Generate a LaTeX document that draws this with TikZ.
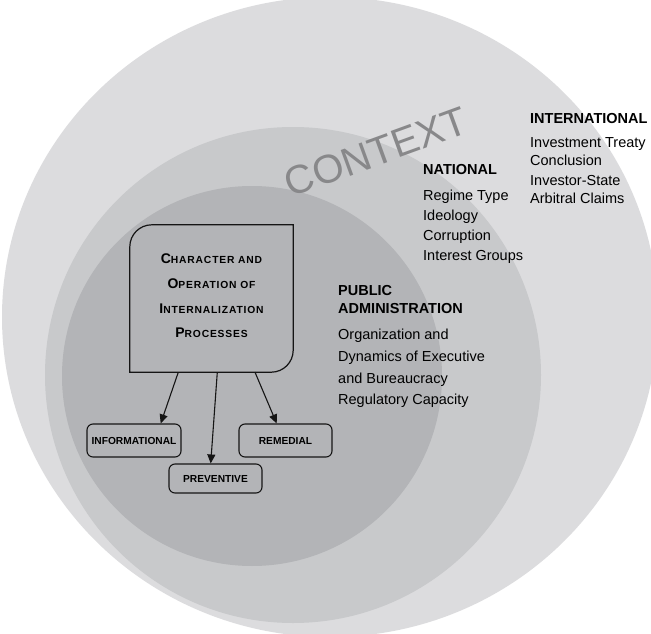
\documentclass[tikz,border=0pt]{standalone}
\usepackage{fontspec}
\setmainfont{Liberation Sans}
\usetikzlibrary{arrows.meta}
\definecolor{outerc}{HTML}{DCDCDE}
\definecolor{midc}{HTML}{C8C9CB}
\definecolor{innerc}{HTML}{B3B4B7}
\definecolor{ctxc}{HTML}{88888A}
\definecolor{linec}{HTML}{151515}
\newcommand{\scword}[2]{{\fontsize{14}{14}\selectfont #1}{\fontsize{10.3}{10}\selectfont #2}}
\tikzset{
  lbl/.style={anchor=base west, inner sep=0pt, text=black, font=\fontsize{14.5}{17}\selectfont},
  hdr/.style={anchor=base west, inner sep=0pt, text=black, font=\fontsize{14.5}{17}\selectfont\bfseries},
  smallbox/.style={draw=linec, line width=1.1pt, rounded corners=6pt, inner sep=0pt,
    font=\fontsize{10.2}{12}\selectfont\bfseries},
  arr/.style={draw=linec, line width=1.1pt, -{Triangle[length=9pt,width=8pt]}},
  boxline/.style={draw=linec, line width=1.2pt},
}
\begin{document}
\begin{tikzpicture}[x=1pt,y=-1pt]
\useasboundingbox (0,0) rectangle (651,634);
\begin{scope}
  \clip (0,0) rectangle (651,634);
  \fill[white] (0,0) rectangle (651,634);
  \fill[outerc] (330,317) ellipse [x radius=328pt, y radius=320pt];
  \fill[midc] (293,375) circle [radius=248pt];
  \fill[innerc] (252,376) circle [radius=190pt];
\end{scope}

% CONTEXT label
\node[rotate=20, text=ctxc, inner sep=0pt, font=\fontsize{40}{40}\selectfont] (ctx) at (376,152) {CONTEXT};

% main box
\node[minimum width=163pt, minimum height=147pt, inner sep=0pt] (mb) at (211.5,298.5) {};
\draw[boxline] ([yshift=-22pt]mb.north west) arc[start angle=180, end angle=90, radius=22pt]
  -- (mb.north east) -- ([yshift=22pt]mb.south east)
  arc[start angle=0, end angle=-90, radius=22pt] -- (mb.south west) -- cycle;
\node[align=center, inner sep=0pt, font=\bfseries\fontsize{14}{24.7}\selectfont\addfontfeature{LetterSpace=8}] (mbt) at (211.5,296)
  {\scword{C}{HARACTER AND}\\ \scword{O}{PERATION OF}\\ \scword{I}{NTERNALIZATION}\\ \scword{P}{ROCESSES}};

% small boxes
\node[smallbox, minimum width=94pt, minimum height=33pt] (info) at (134,440.5) {INFORMATIONAL};
\node[smallbox, minimum width=93pt, minimum height=33pt] (rem) at (285.5,440.5) {REMEDIAL};
\node[smallbox, minimum width=93pt, minimum height=29pt] (prev) at (215.5,478.5) {PREVENTIVE};

% arrows
\draw[arr] ([xshift=-33.2pt]mb.south) -- ([xshift=26.7pt]info.north);
\draw[arr] ([xshift=5.8pt]mb.south) -- ([xshift=-4.8pt]prev.north);
\draw[arr] ([xshift=43.5pt]mb.south) -- ([xshift=-8.8pt]rem.north);

% international
\node[hdr] (intl) at (530,123) {INTERNATIONAL};
\node[lbl] (intl1) at (530,147) {Investment Treaty};
\node[lbl] (intl2) at (530,165) {Conclusion};
\node[lbl] (intl3) at (530,185) {Investor-State};
\node[lbl] (intl4) at (530,203) {Arbitral Claims};

% national
\node[hdr] (nat) at (423,174.5) {NATIONAL};
\node[lbl] (nat1) at (423,200.5) {Regime Type};
\node[lbl] (nat2) at (423,220) {Ideology};
\node[lbl] (nat3) at (423,240) {Corruption};
\node[lbl] (nat4) at (423,260) {Interest Groups};

% public administration
\node[hdr] (pa1) at (338,295) {PUBLIC};
\node[hdr] (pa2) at (338,313) {ADMINISTRATION};
\node[lbl] (pa3) at (338,339.5) {Organization and};
\node[lbl] (pa4) at (338,361.5) {Dynamics of Executive};
\node[lbl] (pa5) at (338,383) {and Bureaucracy};
\node[lbl] (pa6) at (338,404.5) {Regulatory Capacity};
\end{tikzpicture}
\end{document}
